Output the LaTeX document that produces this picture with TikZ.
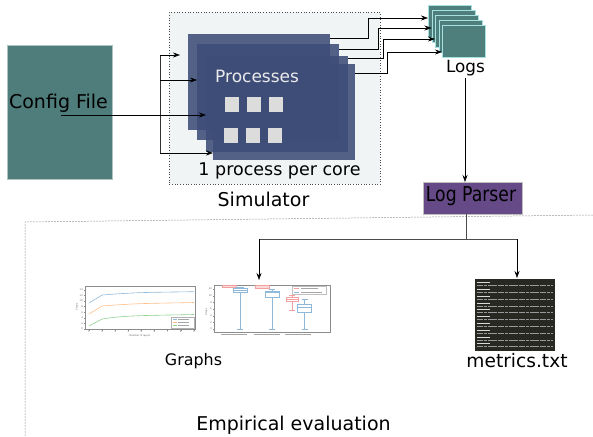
\documentclass[tikz,border=0pt]{standalone}
\usepackage{fontspec}
\setmainfont{DejaVu Sans}
\usetikzlibrary{arrows.meta,calc}
\definecolor{cfgteal}{HTML}{4F7D7B}
\definecolor{cfgedge}{HTML}{AFC3C3}
\definecolor{simbg}{HTML}{F0F4F5}
\definecolor{proc}{HTML}{3E4D78}
\definecolor{sqgray}{HTML}{DCDCDC}
\definecolor{logteal}{HTML}{4F7F7D}
\definecolor{logedge}{HTML}{A6E0E0}
\definecolor{parser}{HTML}{654A87}
\definecolor{term}{HTML}{272822}
\definecolor{pblue}{HTML}{8FB9DA}
\definecolor{porange}{HTML}{FFBE86}
\definecolor{pgreen}{HTML}{8FD18F}
\definecolor{pred}{HTML}{F2A0A0}
\begin{document}
\begin{tikzpicture}[x=1pt,y=-1pt,
  arr/.style={-{Stealth[length=7pt,width=5pt]}, line width=0.6pt, black},
  wire/.style={line width=0.6pt, black!80},
  procbox/.style={fill=proc, fill opacity=0.88, draw=none, minimum width=142pt, minimum height=96pt, anchor=north west, inner sep=0pt, outer sep=0pt},
  sqbox/.style={fill=sqgray, draw=none, minimum width=14pt, minimum height=15pt, anchor=north west, inner sep=0pt},
  logbox/.style={fill=logteal, draw=logedge, line width=1pt, minimum width=43pt, minimum height=32pt, anchor=north west, inner sep=0pt},
  lbl/.style={inner sep=0pt, anchor=base},
  plotframe/.style={draw=black!45, line width=0.4pt, fill=white, anchor=north west, inner sep=0pt},
  tick/.style={inner sep=0.5pt, text=black!60, font=\fontsize{2.4}{3}\selectfont},
  ph/.style={black!35, line width=0.8pt}
]
\useasboundingbox (0,0) rectangle (593,436);

% Config file
\node[fill=cfgteal, draw=cfgedge, line width=1pt, minimum width=105pt, minimum height=134pt, anchor=north west, inner sep=0pt] (cfg) at (7,45) {};
\node[lbl, font=\fontsize{19}{22}\selectfont] (cfglbl) at (58.5,108) {Config File};

% Simulator
\node[fill=simbg, draw=black!70, dotted, line width=0.7pt, minimum width=211pt, minimum height=172pt, anchor=north west, inner sep=0pt] (sim) at (169,12) {};
\node[procbox] (r1) at (188,34) {};
\node[procbox] (r2) at (197,44) {};
\node[procbox] (r3) at (206,56) {};
\node[procbox] (r4) at (213,64) {};
\node[lbl, anchor=base west, text=black!8, font=\fontsize{17}{20}\selectfont] (proclbl) at (215,82) {Processes};
\node[sqbox] (s1) at (225,97) {};
\node[sqbox] (s2) at (247,97) {};
\node[sqbox] (s3) at (269,97) {};
\node[sqbox] (s4) at (224,128) {};
\node[sqbox] (s5) at (246,128) {};
\node[sqbox] (s6) at (268,128) {};
\node[lbl, font=\fontsize{17.5}{20}\selectfont] (corelbl) at (279.5,175) {1 process per core};
\node[lbl, font=\fontsize{19}{22}\selectfont] (simlbl) at (263.5,206) {Simulator};

% Config -> processes
\coordinate (cfgout) at (61,115);
\coordinate (bt) at (160,55);
\coordinate (bb) at (160,153);
\coordinate (t1) at (180,55);
\draw[wire] (bt) -- (bb);
\draw[arr] (cfgout) -- (r3.west |- cfgout);
\draw[arr] (bt) -- (t1);
\draw[arr] (bt |- 0,80) -- (r2.west |- 0,80);
\draw[arr] (bb) -- (r4.west |- bb);

% Logs stack
\node[logbox] (lg1) at (428,5) {};
\node[logbox] (lg2) at (431.5,10) {};
\node[logbox] (lg3) at (435,15) {};
\node[logbox] (lg4) at (438.5,20) {};
\node[logbox] (lg5) at (442,25) {};
\node[lbl, font=\fontsize{16.8}{20}\selectfont] (logslbl) at (465.5,72) {Logs};

% processes -> logs
\draw[arr] ($(r1.north east)+(0,4)$) -- ++(38,0) |- (lg1.west |- 0,18);
\draw[arr] ($(r2.north east)+(0,5)$) -- ++(39,0) |- (lg2.west |- 0,28);
\draw[arr] ($(r3.north east)+(0,2)$) -- ++(35,0) |- (lg3.west |- 0,39);
\draw[arr] ($(r4.north east)+(0,9)$) -- ++(32,0) |- (lg5.west |- 0,52);

% Log parser
\node[fill=parser, draw=black!25, line width=0.5pt, minimum width=99pt, minimum height=32pt, anchor=north west, inner sep=0pt] (parser) at (423,182) {};
\node[lbl, font=\fontsize{20.5}{24}\selectfont] (parserlbl) at (471,201.5) {\scalebox{0.84}[1]{Log Parser}};
\draw[arr] (465,78) -- (465,182);

% Empirical evaluation region
\draw[black!40, dash pattern=on 2pt off 1pt, line width=0.5pt] (593,215) -- (25,222) -- (25,436);
\node[lbl, font=\fontsize{19}{22}\selectfont] (evallbl) at (293.5,430) {Empirical evaluation};

% parser -> outputs
\coordinate (pdown) at (466.5,214);
\coordinate (split) at (466.5,239);
\coordinate (jl) at (259,239);
\coordinate (jr) at (517,239);
\draw[wire, black!70] (pdown) -- (split);
\draw[wire, black!70] (jl) -- (jr);
\draw[arr] (jl) -- (259,280);
\draw[arr] (jr) -- (517,278);

% Plot A
\node[plotframe, minimum width=110pt, minimum height=43pt] (plotA) at (85,286) {};
\foreach \v [count=\i from 0] in {0,2,4,6,8,10,12,14} {
  \draw[black!45, line width=0.3pt] (85,{329-\i*5.6}) -- (83.5,{329-\i*5.6});
  \node[tick, anchor=east] at (83.5,{329-\i*5.6}) {\v};
}
\foreach \v [count=\i from 0] in {1,...,9} {
  \draw[black!45, line width=0.3pt] ({89+\i*13.1},329) -- ({89+\i*13.1},330.5);
  \node[tick, anchor=north] at ({89+\i*13.1},330.5) {\v};
}
\node[tick] at (140,335.5) {Number of layers};
\node[tick, rotate=90] at (77,307) {Steps};
\draw[pblue, line width=0.6pt] plot coordinates {(89,303) (102.1,295) (115.2,294) (128.3,293.2) (141.4,292.6) (154.5,292.3) (167.6,292.1) (180.7,291.9) (193.8,291.7)};
\draw[porange, line width=0.6pt] plot coordinates {(89,314) (102.1,306) (115.2,305) (128.3,304.2) (141.4,303.6) (154.5,303.3) (167.6,303) (180.7,302.8) (193.8,302.5)};
\draw[pgreen, line width=0.6pt] plot coordinates {(89,326) (102.1,319) (115.2,317.2) (128.3,316.2) (141.4,315.6) (154.5,315.3) (167.6,315) (180.7,314.8) (193.8,314.5)};
\draw[black!30, line width=0.3pt, fill=white] (171,317) rectangle (194,328);
\draw[pblue, line width=0.6pt] (172.5,319.5) -- (176.5,319.5);
\draw[porange, line width=0.6pt] (172.5,322.5) -- (176.5,322.5);
\draw[pgreen, line width=0.6pt] (172.5,325.5) -- (176.5,325.5);
\foreach \yy in {319.5,322.5,325.5} \draw[black!35, line width=0.6pt] (178,\yy) -- (189,\yy);

% Plot B
\node[plotframe, minimum width=116pt, minimum height=47pt] (plotB) at (214,285) {};
\foreach \v [count=\i from 0] in {0,2,4,6,8,10,12} {
  \draw[black!45, line width=0.3pt] (214,{329-\i*6.67}) -- (212.5,{329-\i*6.67});
  \node[tick, anchor=east] at (212.5,{329-\i*6.67}) {\v};
}
\node[tick, rotate=90] at (206.5,312) {Steps};
% red boxes
\draw[pred, line width=0.7pt, fill=pred!40] (222,285.3) rectangle (236,287.2);
\draw[pred, line width=0.7pt, fill=pred!40] (255,285.5) rectangle (269,288);
\draw[pred, line width=0.6pt] (292,295) -- (292,297) (292,301) -- (292,310) (289,295) -- (295,295) (289,310) -- (295,310);
\draw[pred, line width=0.7pt] (286,297) rectangle (298,301);
\draw[pred, line width=0.6pt] (286,299) -- (298,299);
% blue boxes
\draw[pblue, line width=0.6pt] (240,287.5) -- (240,288) (240,292.5) -- (240,329) (237,329) -- (243,329) (236,287.5) -- (244,287.5);
\draw[pblue, line width=0.7pt] (233,288) rectangle (247,292.5);
\draw[pblue, line width=0.6pt] (233,290) -- (247,290);
\draw[pblue, line width=0.6pt] (272,289) -- (272,291.5) (272,297.5) -- (272,329) (269,329) -- (275,329) (269,289) -- (275,289);
\draw[pblue, line width=0.7pt] (265,291.5) rectangle (279,297.5);
\draw[pblue, line width=0.6pt] (265,292.5) -- (279,292.5);
\draw[pblue, line width=0.6pt] (304.5,299) -- (304.5,304) (304.5,312) -- (304.5,329) (301.5,329) -- (307.5,329) (301.5,299) -- (307.5,299);
\draw[pblue, line width=0.7pt] (297.5,304) rectangle (311.5,312);
\draw[pblue, line width=0.6pt] (297.5,307) -- (311.5,307);
% legend
\draw[black!25, line width=0.3pt, fill=white] (292,286) rectangle (326,294.5);
\draw[pred, line width=0.6pt] (293.5,288.3) -- (299,288.3);
\draw[pblue, line width=0.6pt] (293.5,292) -- (299,292);
\draw[black!35, line width=0.6pt] (301,288.3) -- (318,288.3) (301,292) -- (322,292);
% x labels
\foreach \cx in {234,267,298} \draw[ph] ({\cx-13},334.5) -- ({\cx+13},334.5);

\node[lbl, font=\fontsize{15.9}{19}\selectfont] (graphslbl) at (193.5,365) {Graphs};

% metrics.txt
\node[fill=term, draw=none, minimum width=80pt, minimum height=72pt, anchor=north west, inner sep=0pt] (metrics) at (475,279) {};
\foreach \i in {0,...,9} {
  \draw[black!15, line width=0.7pt] (477,{282.5+\i*6.8}) -- (490,{282.5+\i*6.8});
  \draw[black!40, line width=0.7pt, dash pattern=on 6pt off 1pt on 3pt off 1pt on 9pt off 1pt] (477,{285.5+\i*6.8}) -- (553,{285.5+\i*6.8});
}
\node[lbl, font=\fontsize{18.6}{22}\selectfont] (metricslbl) at (517,367) {metrics.txt};
\end{tikzpicture}
\end{document}
